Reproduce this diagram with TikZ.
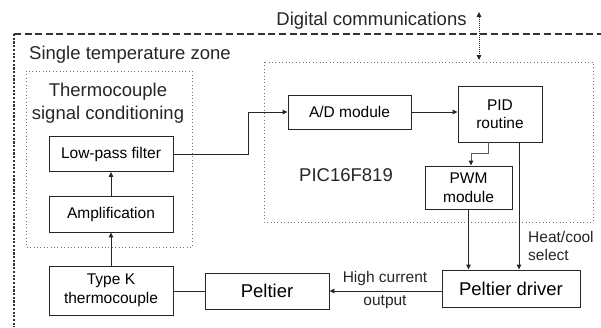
\documentclass[tikz,border=0pt]{standalone}
\usepackage{fontspec}
\setmainfont{Liberation Sans}
\usetikzlibrary{arrows.meta,calc}
\newcommand{\bigtxt}{\fontsize{18.5}{22}\selectfont}
\newcommand{\smalltxt}{\fontsize{15.5}{18.5}\selectfont}
\begin{document}
\begin{tikzpicture}[x=1pt,y=-1pt,
  block/.style={draw=black!85,line width=0.9pt,minimum width=#1,inner sep=0pt,align=center},
  arr/.style={draw=black!85,line width=0.9pt,-{Triangle[length=5pt,width=4.5pt]}},
  grayarr/.style={draw=black!65,line width=0.9pt,-{Triangle[length=5pt,width=4.5pt,color=black!85]}},
  wire/.style={draw=black!85,line width=0.9pt},
  zone/.style={draw=black!55,line width=1pt,dash pattern=on 1pt off 2.4pt},
  lbl/.style={inner sep=0pt,align=center,text=black!85}]
\useasboundingbox (0,0) rectangle (601,327);

% outer enclosure
\draw[black!80,line width=1.8pt,dash pattern=on 7pt off 3.6pt] (14,34) -- (601,34);
\draw[black!80,line width=2.6pt,dash pattern=on 2.2pt off 1.5pt] (14,34) -- (14,327);

% inner zones
\draw[zone] (26,71) rectangle (192,247);
\draw[zone] (264,62) rectangle (593,222);

% titles
\node[lbl,font=\bigtxt] (digcom) at (371.5,21) {Digital communications};
\node[lbl,font=\bigtxt] (zonetitle) at (130,55) {Single temperature zone};
\node[lbl,font=\bigtxt] (tctitle) at (108,103.5) {Thermocouple\\[1pt]signal conditioning};
\node[lbl,font=\bigtxt] (pictitle) at (346,175) {PIC16F819};

% blocks
\node[block=124pt,minimum height=35pt,font=\smalltxt] (lpf) at (111,154) {Low-pass filter};
\node[block=124pt,minimum height=36pt,font=\smalltxt] (amp) at (111,214) {Amplification};
\node[block=124pt,minimum height=49pt,font=\smalltxt] (tk) at (111,290.5) {Type K\\thermocouple};
\node[block=124pt,minimum height=36pt,font=\bigtxt] (pel) at (267,291) {Peltier};
\node[block=138pt,minimum height=37pt,font=\bigtxt] (drv) at (511,288.5) {Peltier driver};
\node[block=123pt,minimum height=34pt,font=\smalltxt] (ad) at (349.5,112) {A/D module};
\node[block=84pt,minimum height=56pt,font=\smalltxt] (pid) at (500,114) {PID\\routine};
\node[block=87pt,minimum height=43pt,font=\smalltxt] (pwm) at (468.5,187.5) {PWM\\module};

% digital communications link
\coordinate (comtop) at (479,12);
\coordinate (combot) at (479,60);
\draw[black!85,line width=1pt,dash pattern=on 1pt off 1pt,
  {Triangle[length=5pt,width=4.5pt]}-{Triangle[length=5pt,width=4.5pt]}] (comtop) -- (combot);

% signal path
\draw[arr] (tk.north) -- (amp.south);
\draw[arr] (amp.north) -- (lpf.south);
\draw[arr] (lpf.east) -- ++(75,0) |- (ad.west);
\draw[arr] (ad.east) -- (ad.east -| pid.west);
\draw[grayarr] ([xshift=-12pt]pid.south) -- ++(0,11) -| ([xshift=2.5pt]pwm.north);
\draw[arr] (pwm.south) -- (pwm.south |- drv.north);
\draw[arr] ([xshift=19pt]pid.south) -- ([xshift=19pt]pid.south |- drv.north);
\draw[arr] (pel.east -| drv.west) -- (pel.east);
\draw[wire] (pel.west -| tk.east) -- (pel.west);

% connector labels
\node[lbl,font=\smalltxt,anchor=west,align=left] (hcsel) at (528,246) {Heat/cool\\select};
\node[lbl,font=\smalltxt] (hcur) at (385,278) {High current};
\node[lbl,font=\smalltxt] (hout) at (385,302) {output};
\end{tikzpicture}
\end{document}
